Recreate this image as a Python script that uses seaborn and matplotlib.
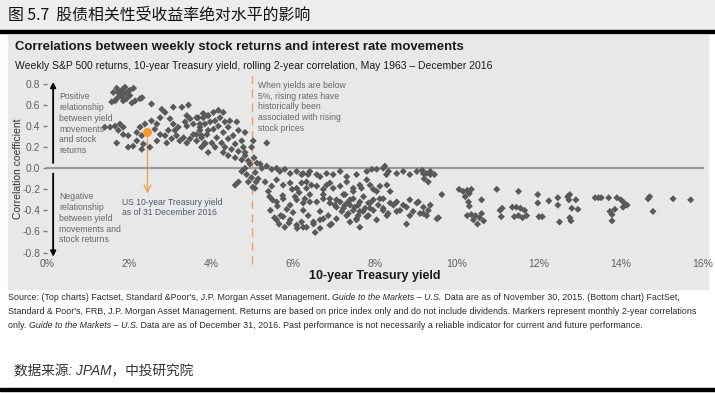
import numpy as np
import pandas as pd
import matplotlib
matplotlib.use("Agg")
import matplotlib.pyplot as plt
import seaborn as sns
from matplotlib import font_manager
from matplotlib.patches import Rectangle

W, H = 715, 393

# --- data: 10y yield (%) vs rolling 2y correlation ---
# top-left group (1960s, low yields, strong positive correlation)
yield_a = [1.58, 1.62, 1.66, 1.70, 1.70, 1.74, 1.78, 1.82, 1.82, 1.86, 1.90, 1.90,
           1.94, 1.98, 2.02, 2.02, 2.07, 2.11, 2.15, 2.27, 2.32, 2.55]
corr_a = [0.63, 0.72, 0.64, 0.76, 0.66, 0.72, 0.69, 0.74, 0.68, 0.64, 0.77, 0.71,
          0.66, 0.73, 0.74, 0.69, 0.62, 0.76, 0.64, 0.66, 0.67, 0.61]

# low yields, moderate positive correlation
yield_b = [1.41, 1.54, 1.66, 1.78, 1.86, 1.74, 1.86, 1.98, 1.70, 1.98, 2.10, 2.19,
           2.27, 2.19, 2.31, 2.35, 2.39, 2.55, 2.63, 2.68, 2.76, 2.68, 2.76, 2.51,
           2.31, 2.88, 2.96, 2.92, 3.04, 3.12, 3.16, 3.24, 3.33, 3.41, 3.49, 3.57,
           3.65, 3.77, 3.85, 3.90, 3.73, 3.57, 3.41, 3.20, 3.08, 3.00,
           2.80, 2.88, 3.08, 3.29, 3.45, 3.41, 3.49, 3.65, 3.81, 3.93, 3.37, 3.73]
corr_b = [0.39, 0.39, 0.40, 0.42, 0.39, 0.36, 0.32, 0.31, 0.24, 0.20, 0.21, 0.26,
          0.39, 0.34, 0.31, 0.23, 0.42, 0.45, 0.37, 0.42, 0.32, 0.26, 0.48, 0.20,
          0.18, 0.31, 0.36, 0.24, 0.28, 0.36, 0.31, 0.26, 0.29, 0.24, 0.28, 0.32,
          0.26, 0.29, 0.24, 0.32, 0.36, 0.42, 0.40, 0.39, 0.42, 0.47,
          0.56, 0.53, 0.58, 0.58, 0.60, 0.50, 0.47, 0.48, 0.48, 0.50, 0.44, 0.42]

# yields 3.6% - 5%, correlation falling towards zero
yield_c = [3.69, 3.81, 3.93, 4.06, 4.18, 4.30, 4.22, 4.10, 3.98, 3.85, 3.73, 3.65,
           3.77, 3.93, 4.06, 4.18, 4.34, 4.46, 4.63, 4.83, 4.42, 4.30, 4.14, 4.02,
           4.26, 4.42, 4.54, 4.67, 4.59, 4.75, 4.50, 4.34, 4.67, 4.79, 4.83, 4.91,
           4.75, 4.59, 4.42, 4.83, 4.95, 4.87, 4.75, 4.67, 4.59, 4.91, 4.99, 4.83,
           4.99, 4.30, 4.10, 3.85, 3.77, 3.93]
corr_c = [0.48, 0.52, 0.50, 0.53, 0.55, 0.53, 0.48, 0.45, 0.44, 0.42, 0.39, 0.32,
          0.31, 0.36, 0.37, 0.40, 0.44, 0.45, 0.44, 0.34, 0.39, 0.34, 0.29, 0.24,
          0.24, 0.28, 0.31, 0.36, 0.23, 0.26, 0.18, 0.20, 0.16, 0.20, 0.12, 0.07,
          0.08, 0.10, 0.12, 0.00, 0.04, -0.06, -0.03, -0.13, -0.16, -0.13, -0.09, 0.15,
          0.20, 0.15, 0.20, 0.23, 0.20, 0.15]

# around the 5% line
yield_d = [5.03, 5.36, 5.05, 5.12, 5.08, 5.15, 5.02, 5.20, 5.10, 5.07]
corr_d = [0.26, 0.24, 0.10, 0.05, -0.04, -0.10, -0.18, 0.04, -0.13, -0.19]

# yields 5% - 9.6%, negative correlation
yield_e = [5.24, 5.36, 5.48, 5.60, 5.68, 5.80, 5.93, 6.09, 6.21, 6.41, 6.58, 6.82,
           6.98, 7.15, 7.31, 7.55, 7.80, 8.04, 8.20, 8.33, 8.53, 8.69, 8.85, 9.02,
           9.18, 9.35,
           5.32, 5.48, 5.60, 5.76, 5.93, 6.09, 6.33, 6.58, 6.74, 6.90, 7.15, 7.31,
           7.47, 7.63, 7.80, 7.96, 8.12, 8.29, 8.37,
           5.43, 5.60, 5.76, 5.93, 6.09, 6.25, 6.41, 6.58, 6.74, 6.90, 7.06, 7.23,
           7.35, 7.47, 7.59, 7.72, 7.84, 7.96, 8.08, 8.20, 8.37, 8.53, 8.69, 8.85,
           9.02, 9.18, 9.35, 9.51, 9.63, 7.06, 7.23, 7.39, 7.63, 7.88, 8.20, 8.53,
           8.85, 9.10, 9.26,
           5.60, 5.76, 5.93, 6.09, 6.21, 6.33, 6.50, 6.66, 6.90, 7.06, 7.31, 7.55,
           7.80, 8.04, 8.29, 8.77,
           6.25, 6.37, 6.21, 6.33, 6.45, 6.29, 6.41, 6.25, 6.37, 6.50, 6.25, 6.54,
           6.66, 6.66, 6.82, 6.98, 6.74, 6.90, 7.02, 6.86, 6.74, 6.94, 6.66,
           7.15, 7.27, 7.39, 7.51, 7.63, 7.76, 7.88, 7.19, 7.35, 7.47, 7.59, 7.71,
           7.84, 7.96, 7.27, 7.47, 7.67, 7.88, 8.04, 8.12, 8.20, 8.32, 8.45, 8.61,
           8.77, 8.93, 9.06, 9.18, 9.30, 7.39, 7.55, 7.63, 7.92, 8.24, 8.28,
           5.40, 5.50, 5.45, 5.62, 5.70, 5.75, 5.85, 5.90, 6.00, 6.05, 6.10, 5.80,
           5.66, 5.55, 6.15, 5.98]
corr_e = [0.00, 0.02, -0.01, 0.00, -0.03, -0.01, -0.05, -0.03, -0.06, -0.03, -0.06, -0.05,
          -0.06, -0.03, -0.08, -0.06, -0.03, -0.01, 0.00, -0.03, -0.05, -0.03, -0.06, -0.03,
          -0.05, -0.06,
          -0.13, -0.17, -0.11, -0.16, -0.14, -0.19, -0.13, -0.17, -0.20, -0.14, -0.17, -0.13,
          -0.19, -0.16, -0.11, -0.20, -0.17, -0.16, -0.22,
          -0.27, -0.32, -0.29, -0.35, -0.30, -0.33, -0.25, -0.32, -0.29, -0.33, -0.30, -0.25,
          -0.32, -0.29, -0.35, -0.27, -0.33, -0.30, -0.35, -0.29, -0.33, -0.32, -0.35, -0.30,
          -0.33, -0.37, -0.35, -0.48, -0.25, -0.37, -0.38, -0.35, -0.41, -0.38, -0.40, -0.41,
          -0.45, -0.43, -0.45,
          -0.49, -0.46, -0.49, -0.54, -0.51, -0.56, -0.53, -0.49, -0.54, -0.48, -0.45, -0.48,
          -0.46, -0.49, -0.45, -0.53,
          -0.05, -0.06, -0.14, -0.19, -0.16, -0.29, -0.32, -0.40, -0.45, -0.51, -0.56, -0.61,
          -0.57, -0.08, -0.16, -0.19, -0.25, -0.29, -0.35, -0.45, -0.48, -0.53, -0.41,
          -0.32, -0.35, -0.30, -0.37, -0.32, -0.38, -0.33, -0.41, -0.43, -0.40, -0.45, -0.41,
          -0.45, -0.40, -0.25, -0.22, -0.19, -0.16, -0.22, -0.29, -0.38, -0.43, -0.35, -0.40,
          -0.37, -0.41, -0.32, -0.43, -0.40, -0.51, -0.49, -0.56, -0.01, 0.02, -0.06,
          -0.22, -0.30, -0.40, -0.36, -0.45, -0.26, -0.39, -0.52, -0.42, -0.27, -0.57, -0.56,
          -0.53, -0.47, -0.23, -0.20]

# high yields (late 1970s - 1980s)
yield_f = [9.15, 9.25, 9.35, 9.45, 9.20, 9.30, 9.55,
           10.05, 10.15, 10.25, 10.30, 10.20, 10.35, 10.28, 10.30,
           10.25, 10.35, 10.45, 10.55, 10.60, 10.65, 10.40, 10.50, 10.60, 10.97,
           11.05, 11.08, 11.10, 11.35, 11.45, 11.55, 11.65, 11.40, 11.50, 11.60, 11.70,
           11.50, 11.97, 11.97, 12.00, 12.08, 12.24, 12.46, 12.46, 12.50,
           12.70, 12.75, 12.73, 12.80, 12.75, 12.78, 12.90, 12.95,
           13.37, 13.45, 13.52, 13.70, 13.90, 13.73, 13.78, 13.85, 13.78,
           14.00, 14.05, 14.15, 14.08, 14.66, 14.70, 14.78, 15.27, 15.70]
corr_f = [-0.02, -0.05, -0.03, -0.06, -0.10, -0.13, -0.47,
          -0.20, -0.22, -0.21, -0.24, -0.27, -0.20, -0.32, -0.36,
          -0.45, -0.44, -0.45, -0.47, -0.43, -0.50, -0.49, -0.53, -0.30, -0.20,
          -0.40, -0.46, -0.38, -0.37, -0.37, -0.38, -0.40, -0.46, -0.45, -0.47, -0.45,
          -0.22, -0.25, -0.33, -0.46, -0.46, -0.31, -0.28, -0.35, -0.51,
          -0.27, -0.25, -0.30, -0.38, -0.47, -0.50, -0.30, -0.39,
          -0.28, -0.28, -0.28, -0.28, -0.28, -0.41, -0.44, -0.39, -0.50,
          -0.30, -0.37, -0.35, -0.33, -0.29, -0.27, -0.41, -0.29, -0.30]

# latest point, 31 December 2016
latest_yield = [2.45]
latest_corr = [0.34]

x_ticks = [0, 2, 4, 6, 8, 10, 12, 14, 16]
x_tick_labels = ["0%", "2%", "4%", "6%", "8%", "10%", "12%", "14%", "16%"]
y_ticks = [-0.8, -0.6, -0.4, -0.2, 0.0, 0.2, 0.4, 0.6, 0.8]
y_tick_labels = ["-0.8", "-0.6", "-0.4", "-0.2", "0.0", "0.2", "0.4", "0.6", "0.8"]

df = pd.DataFrame({
    "yield": yield_a + yield_b + yield_c + yield_d + yield_e + yield_f,
    "corr": corr_a + corr_b + corr_c + corr_d + corr_e + corr_f,
})

sns.set_style("white")
names = {f.name for f in font_manager.fontManager.ttflist}
NARROW = "Liberation Sans Narrow" if "Liberation Sans Narrow" in names else "Liberation Sans"
plt.rcParams["font.family"] = [NARROW, "DejaVu Sans"]
CJK = ["Noto Sans CJK SC", "DejaVu Sans"]
LATIN_CJK = ["Liberation Sans", "Noto Sans CJK SC"]


def fx(px):
    return px / W


def fy(py):
    return 1 - py / H


fig = plt.figure(figsize=(W / 100, H / 100), dpi=100)
fig.patch.set_facecolor("white")
renderer = fig.canvas.get_renderer()


def fit(t, width_px):
    w = t.get_window_extent(renderer).width
    t.set_fontsize(t.get_fontsize() * width_px / w)
    return t


# backgrounds and rules
fig.add_artist(Rectangle((0, fy(29)), 1, 29 / H, transform=fig.transFigure,
                         color="#ededed", zorder=-5))
fig.add_artist(Rectangle((0, fy(33)), 1, 3 / H, transform=fig.transFigure,
                         color="black", zorder=-5))
fig.add_artist(Rectangle((fx(8), fy(289)), 700 / W, 254 / H, transform=fig.transFigure,
                         color="#e8e8e8", zorder=-5))
fig.add_artist(Rectangle((0, fy(391)), 1, 3 / H, transform=fig.transFigure,
                         color="black", zorder=-5))

# header
fit(fig.text(fx(8), fy(15), "图 5.7  股债相关性受收益率绝对水平的影响", family=CJK,
             fontsize=11, va="center", color="#111"), 302)

# chart titles
fit(fig.text(fx(15), fy(47), "Correlations between weekly stock returns and interest rate movements",
             family="Liberation Sans", fontweight="bold", fontsize=10, va="center", color="#1a1a1a"), 450)
fit(fig.text(fx(15), fy(66), "Weekly S&P 500 returns, 10-year Treasury yield, rolling 2-year correlation, May 1963 – December 2016",
             fontsize=8, va="center", color="#1a1a1a"), 477)

ax = fig.add_axes([fx(47), fy(252.5), (703 - 47) / W, (252.5 - 84) / H])
ax.patch.set_alpha(0)

sns.scatterplot(data=df, x="yield", y="corr", marker="D", s=13, color="#595959",
                edgecolor="none", ax=ax, zorder=3, legend=False)
sns.scatterplot(x=latest_yield, y=latest_corr, marker="o", s=42, color="#f39a2b",
                edgecolor="none", ax=ax, zorder=4, legend=False)

ax.set_xlim(0, 16)
ax.set_ylim(-0.8, 0.8)
for side in ["top", "right", "left"]:
    ax.spines[side].set_visible(False)
ax.spines["bottom"].set_position(("data", 0))
ax.spines["bottom"].set_color("#9a9a9a")
ax.spines["bottom"].set_linewidth(1.6)
ax.spines["bottom"].set_zorder(2)

ax.set_xticks(x_ticks)
ax.set_xticklabels(x_tick_labels)
ax.set_yticks(y_ticks)
ax.set_yticklabels(y_tick_labels)
ax.tick_params(axis="x", direction="out", length=4, width=1, color="#9a9a9a",
               pad=61, labelsize=7.5, labelcolor="#606060")
ax.tick_params(axis="y", direction="out", length=3, width=1, color="#777777",
               pad=2, labelsize=7.5, labelcolor="#606060", left=True)
ax.set_xlabel("")
ax.set_ylabel("Correlation coefficient", fontsize=7.5, color="#333333")
ax.yaxis.set_label_coords(-0.036, 0.5)

fig.text(fx(375), fy(276), "10-year Treasury yield", fontsize=9, fontweight="bold",
         ha="center", va="center", color="#1a1a1a")

# black arrows with explanation
arrow_kw = dict(arrowstyle="-|>", color="black", lw=1.3, mutation_scale=8,
                shrinkA=0, shrinkB=0)
ax.annotate("", xy=(0.15, 0.82), xytext=(0.15, 0.05), arrowprops=arrow_kw,
            annotation_clip=False)
ax.annotate("", xy=(0.15, -0.84), xytext=(0.15, -0.05), arrowprops=arrow_kw,
            annotation_clip=False)
note_kw = dict(fontsize=6.2, color="#666666", va="top", ha="left", linespacing=1.25)
ax.text(0.3, 0.72, "Positive\nrelationship\nbetween yield\nmovements\nand stock\nreturns", **note_kw)
ax.text(0.3, -0.23, "Negative\nrelationship\nbetween yield\nmovements and\nstock returns", **note_kw)

# 5% threshold
ax.axvline(5.0, ymin=-0.07, ymax=1.05, color="#eba25c", lw=1, dashes=(6, 4),
           clip_on=False, zorder=1)
ax.text(5.15, 0.83, "When yields are below\n5%, rising rates have\nhistorically been\nassociated with rising\nstock prices",
        **note_kw)

# latest yield arrow
ax.annotate("", xy=(latest_yield[0], -0.24), xytext=(latest_yield[0], latest_corr[0] - 0.02),
            arrowprops=dict(arrowstyle="->", color="#f0a055", lw=1, mutation_scale=12,
                            shrinkA=0, shrinkB=0), zorder=2)
ax.text(1.82, -0.28, "US 10-year Treasury yield\nas of 31 December 2016",
        fontsize=6.2, color="#505a6a", va="top", ha="left", linespacing=1.25)

# source notes, with italic segments
src_lines = [
    [("Source: (Top charts) Factset, Standard &Poor's, J.P. Morgan Asset Management. ", "normal"),
     ("Guide to the Markets – U.S.", "italic"),
     (" Data are as of November 30, 2015. (Bottom chart) FactSet,", "normal")],
    [("Standard & Poor's, FRB, J.P. Morgan Asset Management. Returns are based on price index only and do not include dividends. Markers represent monthly 2-year correlations", "normal")],
    [("only. ", "normal"),
     ("Guide to the Markets – U.S.", "italic"),
     (" Data are as of December 31, 2016. Past performance is not necessarily a reliable indicator for current and future performance.", "normal")],
]
probe = fig.text(0, 0, src_lines[1][0][0], fontsize=7)
fit(probe, 678)
src_size = probe.get_fontsize()
probe.remove()

for row, segs in zip([298, 311.5, 325], src_lines):
    x = 8
    for txt, style in segs:
        t = fig.text(fx(x), fy(row), txt, fontsize=src_size, style=style,
                     va="center", ha="left", color="#2a2a2a")
        x += t.get_window_extent(renderer).width

fit(fig.text(fx(14), fy(371), "数据来源: JPAM，中投研究院", family=LATIN_CJK, fontsize=9,
             style="italic", va="center", color="#333333"), 180)

fig.savefig("out.png", dpi=100)
